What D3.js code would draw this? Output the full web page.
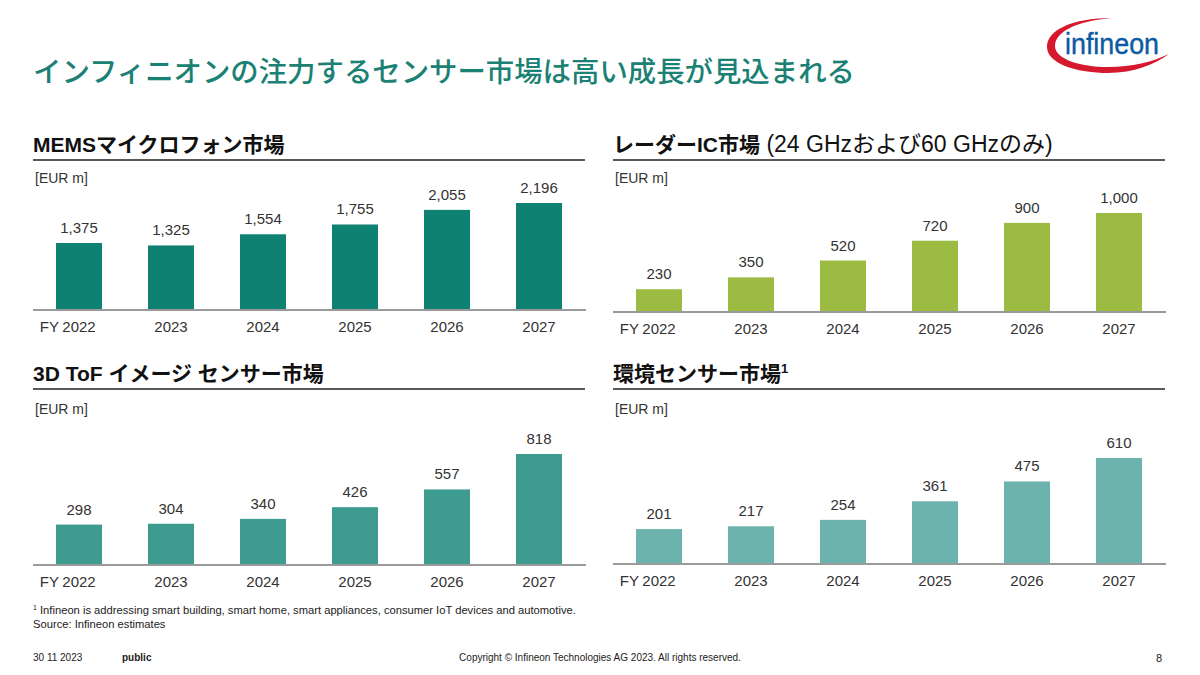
<!DOCTYPE html>
<html><head><meta charset="utf-8">
<script src="https://cdn.jsdelivr.net/npm/d3@7"></script>
<style>
body{margin:0;background:#fff;}
svg{display:block;font-family:"Liberation Sans","Noto Sans CJK JP",Arial,sans-serif;}
</style></head>
<body><svg id="c" width="1200" height="675"></svg>
<script>
const years = ["2022","2023","2024","2025","2026","2027"];
const memsValues = [1375,1325,1554,1755,2055,2196];
const radarValues = [230,350,520,720,900,1000];
const tofValues = [298,304,340,426,557,818];
const envValues = [201,217,254,361,475,610];
const fmt = d3.format(",");

const svg = d3.select("#c");
const JP = "'Liberation Sans','Noto Sans CJK JP',sans-serif";

// main title
svg.append("text").attr("x",33).attr("y",82)
  .attr("font-family","'Noto Sans CJK JP',sans-serif").attr("font-weight",500)
  .attr("font-size",28.4).attr("fill","#1b8174")
  .text("インフィニオンの注力するセンサー市場は高い成長が見込まれる");

// logo
const logo = svg.append("g");
logo.append("path")
  .attr("d","M1112,18 C1072,18 1047,30 1047,47 C1047,64 1078,73 1108,73 C1134,73 1155,64 1169,54 C1152,62 1132,67 1108,67 C1080,67 1055,59 1055,46 C1055,32 1076,21 1112,18 Z")
  .attr("fill","#d7192f");
logo.append("text").attr("x",1065).attr("y",54)
  .attr("font-family","'Liberation Sans Narrow','Liberation Sans',sans-serif")
  .attr("font-size",29).attr("fill","#0b5aa4").attr("stroke","#0b5aa4").attr("stroke-width",0.4)
  .attr("textLength",94).attr("lengthAdjust","spacingAndGlyphs")
  .text("infineon");

const panels = [
  {values:memsValues, color:"#0e8173", x0:33, x1:585, titleY:152, ruleY:160, unitY:183, base:310, h:107,
   title:[{t:"MEMSマイクロフォン市場",w:700}]},
  {values:radarValues, color:"#9bbb43", x0:613, x1:1165, titleY:152, ruleY:160, unitY:183, base:312, h:99,
   title:[{t:"レーダーIC市場",w:700},{t:" (24 GHzおよび60 GHzのみ)",w:400,fs:23}]},
  {values:tofValues, color:"#3d9b90", x0:33, x1:585, titleY:381, ruleY:389, unitY:414, base:565, h:111,
   title:[{t:"3D ToF イメージ センサー市場",w:700}]},
  {values:envValues, color:"#6db3ad", x0:613, x1:1165, titleY:381, ruleY:389, unitY:414, base:564, h:106,
   title:[{t:"環境センサー市場",w:700},{t:"1",w:700,sup:true}]}
];

panels.forEach(p=>{
  const g = svg.append("g");
  const t = g.append("text").attr("x",p.x0).attr("y",p.titleY)
    .attr("font-family",JP).attr("font-size",21).attr("fill","#111");
  p.title.forEach(s=>{
    const ts = t.append("tspan").attr("font-weight",s.w).text(s.t);
    if(s.fs) ts.attr("font-size",s.fs);
    if(s.sup) ts.attr("font-size",13).attr("dy",-8);
  });
  g.append("line").attr("x1",p.x0).attr("x2",p.x1).attr("y1",p.ruleY).attr("y2",p.ruleY)
    .attr("stroke","#222").attr("stroke-width",1.5);
  g.append("text").attr("x",p.x0+2).attr("y",p.unitY)
    .attr("font-size",14).attr("fill","#333").text("[EUR m]");

  const x = d3.scaleBand().domain(years).range([p.x0,p.x1]).paddingInner(0.5).paddingOuter(0.25);
  const maxV = d3.max(p.values);
  const y = d3.scaleLinear().domain([0,maxV]).range([p.base,p.base-p.h]);
  const data = years.map((yr,i)=>({yr,v:p.values[i]}));

  g.selectAll("rect.bar").data(data).join("rect").attr("class","bar")
    .attr("x",d=>x(d.yr)).attr("width",x.bandwidth())
    .attr("y",d=>y(d.v)).attr("height",d=>y(0)-y(d.v))
    .attr("fill",p.color);

  g.selectAll("text.val").data(data).join("text").attr("class","val")
    .attr("x",d=>x(d.yr)+x.bandwidth()/2).attr("y",d=>y(d.v)-10)
    .attr("text-anchor","middle").attr("font-size",15).attr("fill","#333")
    .text(d=>fmt(d.v));

  const axis = d3.axisBottom(x).tickSize(0).tickPadding(11).tickFormat(d=>d);
  const ag = g.append("g").attr("transform",`translate(0,${p.base})`).call(axis);
  ag.select(".domain").remove();
  ag.append("line").attr("x1",p.x0).attr("x2",p.x1+1).attr("y1",0).attr("y2",0)
    .attr("stroke","#9a9a9a").attr("stroke-width",2);
  ag.selectAll(".tick text").attr("font-size",15).attr("fill","#333")
    .attr("font-family","'Liberation Sans',sans-serif");
  ag.append("text").attr("x",x(years[0])+x.bandwidth()/2-20).attr("y",11).attr("dy","0.71em")
    .attr("text-anchor","end").attr("font-size",15).attr("fill","#333")
    .attr("font-family","'Liberation Sans',sans-serif").text("FY");
});

// footnotes
const foot = svg.append("g").attr("font-family","'Liberation Sans',sans-serif").attr("fill","#222");
const fn = foot.append("text").attr("x",33).attr("y",614).attr("font-size",11.2);
fn.append("tspan").attr("font-size",7).attr("dy",-4).text("1");
fn.append("tspan").attr("dy",4).text(" Infineon is addressing smart building, smart home, smart appliances, consumer IoT devices and automotive.");
foot.append("text").attr("x",33).attr("y",628).attr("font-size",11.2).text("Source: Infineon estimates");
foot.append("text").attr("x",33).attr("y",661).attr("font-size",10).text("30 11 2023");
foot.append("text").attr("x",122).attr("y",661).attr("font-size",10).attr("font-weight",700).text("public");
foot.append("text").attr("x",600).attr("y",661).attr("font-size",10).attr("text-anchor","middle")
  .text("Copyright © Infineon Technologies AG 2023. All rights reserved.");
foot.append("text").attr("x",1156).attr("y",662).attr("font-size",11).text("8");
</script></body></html>
